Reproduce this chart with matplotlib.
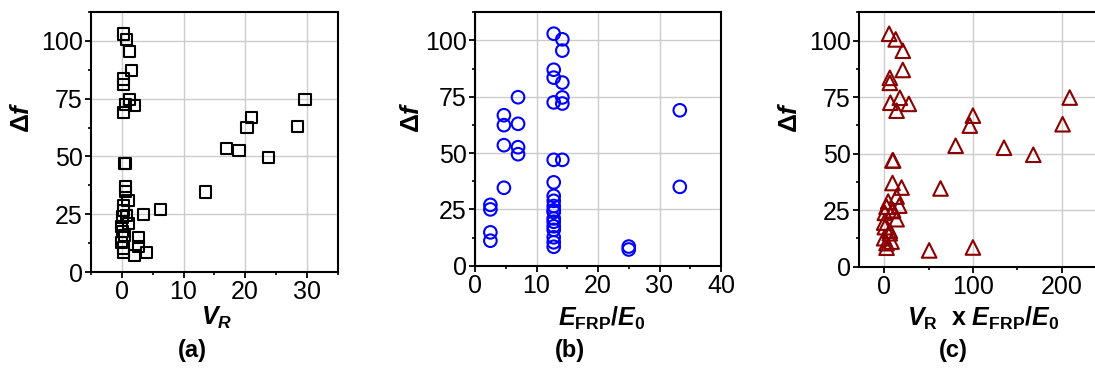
import numpy as np
import matplotlib
matplotlib.use("Agg")
import matplotlib.pyplot as plt
from matplotlib.ticker import MultipleLocator

plt.rcParams['font.family'] = ['Liberation Sans', 'DejaVu Sans']
plt.rcParams['mathtext.fontset'] = 'custom'
plt.rcParams['mathtext.rm'] = 'Liberation Sans'
plt.rcParams['mathtext.it'] = 'Liberation Sans:italic'
plt.rcParams['mathtext.bf'] = 'Liberation Sans:bold'
plt.rcParams['mathtext.bfit'] = 'Liberation Sans:bold:italic'

# one entry per specimen
delta_f = [103, 100.5, 95.5, 87, 83.5, 81.3, 74.7, 72.5, 72, 69,
           66.8, 62.4, 53.5, 34.6, 74.8, 63, 52.6, 49.5,
           8.5, 7.2, 27, 25, 14.8, 11.1, 35,
           47, 47, 37, 31, 28.8, 26.5, 24.6, 23.8, 21, 19.5,
           17.5, 15.9, 12.6, 10.4, 8.4]
v_r = [0.2, 0.8, 1.3, 1.6, 0.3, 0.3, 1.2, 0.6, 2.0, 0.3,
       21, 20.3, 17, 13.5, 29.7, 28.5, 19, 23.8,
       4.0, 2.0, 6.2, 3.5, 2.7, 2.7, 0.6,
       0.5, 0.6, 0.6, 1.0, 0.3, 0.2, 0.7, 0.1, 1.1, 0.0,
       0.05, 0.5, 0.0, 0.2, 0.2]
e_ratio = [12.8, 14.2, 14.2, 12.8, 12.8, 14.2, 14.2, 12.8, 14.2, 33.3,
           4.7, 4.7, 4.7, 4.7, 7.0, 7.0, 7.0, 7.0,
           25, 25, 2.5, 2.5, 2.5, 2.5, 33.3,
           12.8, 14.2, 12.8, 12.8, 12.8, 12.8, 12.8, 12.8, 12.8, 12.8,
           12.8, 12.8, 12.8, 12.8, 12.8]
vr_x_e = [5.6, 13, 21, 21, 6.4, 6.4, 17.7, 7, 27.8, 14,
          100, 96.5, 80.5, 63.5, 209, 201, 135, 168,
          100, 50.7, 17, 10, 6.4, 8.3, 19.6,
          9.4, 10.1, 9.4, 14, 4.5, 2.7, 9, 0.8, 14, 0,
          0.8, 6.4, 0, 2.7, 2.7]

W, H = 1095, 383
fig = plt.figure(figsize=(W / 100, H / 100), dpi=100)

def px_axes(l, r, t, b):
    return fig.add_axes([l / W, 1 - b / H, (r - l) / W, (b - t) / H])

ax_a = px_axes(91, 337.7, 12, 272)
ax_b = px_axes(475, 721, 12.3, 265.7)
ax_c = px_axes(859.3, 1097.2, 12.3, 266.7)

ax_a.scatter(v_r, delta_f, s=64, marker='s', facecolors='none',
             edgecolors='black', linewidths=1.5, zorder=3)
ax_b.scatter(e_ratio, delta_f, s=82, marker='o', facecolors='none',
             edgecolors='#0000ff', linewidths=1.5, zorder=3)
ax_c.scatter(vr_x_e, delta_f, s=110, marker='^', facecolors='none',
             edgecolors='#8b0000', linewidths=1.5, zorder=3)

ax_a.set_xlim(-5, 35)
ax_a.xaxis.set_major_locator(MultipleLocator(10))
ax_a.xaxis.set_minor_locator(MultipleLocator(5))
ax_b.set_xlim(0, 40)
ax_b.xaxis.set_major_locator(MultipleLocator(10))
ax_b.xaxis.set_minor_locator(MultipleLocator(5))
ax_c.set_xlim(-28, 240)
ax_c.xaxis.set_major_locator(MultipleLocator(100))
ax_c.xaxis.set_minor_locator(MultipleLocator(50))

for ax in (ax_a, ax_b, ax_c):
    ax.set_ylim(0, 112.5)
    ax.yaxis.set_major_locator(MultipleLocator(25))
    ax.yaxis.set_minor_locator(MultipleLocator(12.5))
    ax.grid(True, which='major', color='#cccccc', linewidth=1.0, zorder=0)
    ax.set_axisbelow(True)
    for sp in ax.spines.values():
        sp.set_linewidth(1.5)
    ax.tick_params(which='major', direction='out', length=4, width=1.3,
                   labelsize=18, pad=2)
    ax.tick_params(which='minor', direction='out', length=2.5, width=1.2)

# axis titles
fig.text(217 / W, 1 - 318 / H, r'$\mathbfit{V}_{\mathbfit{R}}$',
         ha='center', va='center', fontsize=18)
fig.text(602 / W, 1 - 318 / H,
         r'$\mathbfit{E}_{\mathbf{FRP}}\mathbf{/}\mathbfit{E}_{\mathbf{0}}$',
         ha='center', va='center', fontsize=18)
fig.text(983 / W, 1 - 318 / H,
         r'$\mathbfit{V}_{\mathbf{R}}\ \ \mathbf{x}\ \mathbfit{E}_{\mathbf{FRP}}'
         r'\mathbf{/}\mathbfit{E}_{\mathbf{0}}$',
         ha='center', va='center', fontsize=18)
for x in (22, 411.7, 790):
    fig.text(x / W, 1 - 117 / H, r'$\mathbf{\Delta}\mathbfit{f}$',
             rotation=90, ha='center', va='center', fontsize=19)

# panel tags
for x, tag in ((192, '(a)'), (570, '(b)'), (953, '(c)')):
    fig.text(x / W, 1 - 350 / H, tag, ha='center', va='center',
             fontsize=17, fontweight='bold')

fig.savefig('out.png', dpi=100)
